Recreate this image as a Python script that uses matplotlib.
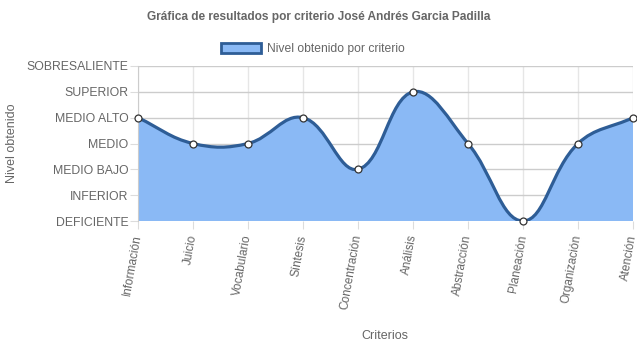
import matplotlib
matplotlib.use("Agg")
import matplotlib.pyplot as plt
from matplotlib.path import Path
from matplotlib.patches import PathPatch, Patch
import numpy as np

categories = ["Información", "Juicio", "Vocabulario", "Síntesis", "Concentración",
              "Análisis", "Abstracción", "Planeación", "Organización", "Atención"]
levels = ["DEFICIENTE", "INFERIOR", "MEDIO BAJO", "MEDIO", "MEDIO ALTO",
          "SUPERIOR", "SOBRESALIENTE"]
values = [4, 3, 3, 4, 2, 5, 3, 0, 3, 4]

title = "Gráfica de resultados por criterio José Andrés Garcia Padilla"
series_label = "Nivel obtenido por criterio"
x_label = "Criterios"
y_label = "Nivel obtenido"

plt.rcParams['font.family'] = ['Liberation Sans', 'DejaVu Sans']
fill_color = "#8ab9f5"
line_color = "#2e5d96"
text_color = "#666666"
grid_color = "#dcdcdc"

fig = plt.figure(figsize=(6.37, 3.48), dpi=100)
ax = fig.add_axes([138/637, 1-221/348, (633-138)/637, (221-66)/348])
x = np.arange(len(categories))
ax.set_xlim(0, len(categories)-1)
ax.set_ylim(0, len(levels)-1)

# Chart.js style spline (tension 0.4) computed in pixel space
fig.canvas.draw()
pts = ax.transData.transform(np.column_stack([x, values]))
t = 0.4
n = len(pts)
cp_prev = pts.copy()
cp_next = pts.copy()
for i in range(n):
    p0 = pts[i-1] if i > 0 else pts[i]
    p1 = pts[i]
    p2 = pts[i+1] if i < n-1 else pts[i]
    d01 = np.hypot(*(p1-p0))
    d12 = np.hypot(*(p2-p1))
    tot = d01 + d12
    s01 = d01/tot if tot else 0
    s12 = d12/tot if tot else 0
    cp_prev[i] = p1 - t*s01*(p2-p0)
    cp_next[i] = p1 + t*s12*(p2-p0)
bb = ax.bbox
for arr in (cp_prev, cp_next):
    arr[:, 0] = np.clip(arr[:, 0], bb.x0, bb.x1)
    arr[:, 1] = np.clip(arr[:, 1], bb.y0, bb.y1)
inv = ax.transData.inverted()
P = inv.transform(pts)
CP = inv.transform(cp_prev)
CN = inv.transform(cp_next)
verts = [tuple(P[0])]
codes = [Path.MOVETO]
for i in range(1, n):
    verts += [tuple(CN[i-1]), tuple(CP[i]), tuple(P[i])]
    codes += [Path.CURVE4]*3
line_path = Path(verts, codes)
fill_verts = verts + [(x[-1], 0), (x[0], 0), tuple(P[0])]
fill_codes = codes + [Path.LINETO, Path.LINETO, Path.CLOSEPOLY]
ax.add_patch(PathPatch(Path(fill_verts, fill_codes), facecolor=fill_color,
                       edgecolor='none', zorder=2))
ax.add_patch(PathPatch(line_path, facecolor='none', edgecolor=line_color,
                       lw=2.3, zorder=3, capstyle='round'))
ax.plot(x, values, 'o', ms=5, mfc='white', mec='#333333', mew=0.9, zorder=4,
        clip_on=False)

ax.set_xticks(x)
ax.set_xticklabels(categories, rotation=80, ha='right', va='center',
                   rotation_mode='anchor', fontsize=8.5, color=text_color)
ax.set_yticks(range(len(levels)))
ax.set_yticklabels(levels, fontsize=8.8, color=text_color)
ax.tick_params(axis='x', length=6, color=grid_color, pad=4)
ax.tick_params(axis='y', length=6, color=grid_color, pad=1)
ax.grid(axis='x', color='#e6e6e6', lw=1, zorder=0)
ax.grid(axis='y', color='#cccccc', lw=1, zorder=0)
ax.set_axisbelow(True)
for s in ['top', 'right', 'bottom']:
    ax.spines[s].set_visible(False)
ax.spines['left'].set_color('#cccccc')

fig.text(385/637, 1-336/348, x_label, ha='center', va='center',
         fontsize=9, color=text_color)
fig.text(12/637, 1-143/348, y_label, rotation=90, ha='center', va='center',
         fontsize=9, color=text_color)
fig.text(319/637, 1-17/348, title, ha='center', va='center', fontsize=8.6,
         fontweight='bold', color=text_color)

handle = Patch(facecolor=fill_color, edgecolor=line_color, lw=2)
fig.legend([handle], [series_label], loc='center', bbox_to_anchor=(313/637, 1-49/348),
           frameon=False, fontsize=8.7, handlelength=3.3, handleheight=0.9,
           handletextpad=0.5, labelcolor=text_color)

fig.savefig("out.png", dpi=100)
